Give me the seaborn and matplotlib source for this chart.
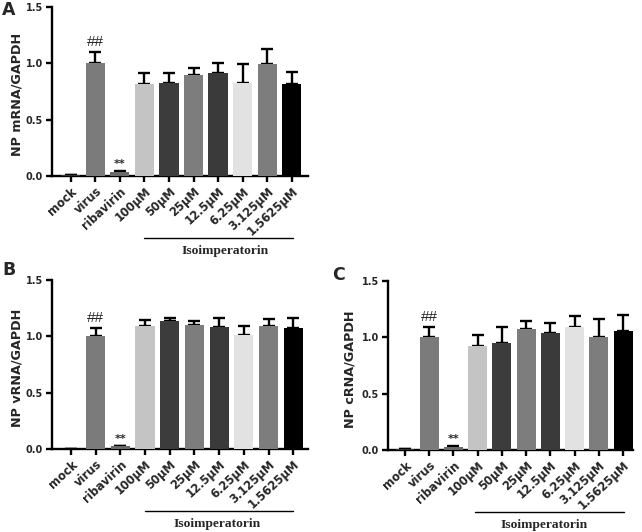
import matplotlib
matplotlib.use("Agg")
import matplotlib.pyplot as plt
import matplotlib.transforms as mtransforms
import numpy as np
import pandas as pd
import seaborn as sns

categories = ["mock", "virus", "ribavirin", "100\u03bcM", "50\u03bcM", "25\u03bcM",
              "12.5\u03bcM", "6.25\u03bcM", "3.125\u03bcM", "1.5625\u03bcM"]
bar_colors = ["#333333", "#7b7b7b", "#6a6a6a", "#c4c4c4", "#3c3c3c", "#7d7d7d",
              "#3a3a3a", "#e2e2e2", "#7d7d7d", "#000000"]

mrna_mean = [0.01, 1.00, 0.035, 0.815, 0.825, 0.895, 0.915, 0.825, 0.995, 0.815]
mrna_err = [0.0, 0.10, 0.01, 0.095, 0.09, 0.06, 0.09, 0.17, 0.13, 0.105]

vrna_mean = [0.0, 1.005, 0.025, 1.095, 1.14, 1.105, 1.08, 1.015, 1.093, 1.075]
vrna_err = [0.0, 0.07, 0.005, 0.05, 0.025, 0.03, 0.085, 0.08, 0.06, 0.09]

crna_mean = [0.01, 1.005, 0.03, 0.925, 0.953, 1.07, 1.04, 1.095, 1.0, 1.055]
crna_err = [0.0, 0.085, 0.005, 0.10, 0.135, 0.078, 0.085, 0.09, 0.165, 0.145]

ylabels = ["NP mRNA/GAPDH", "NP vRNA/GAPDH", "NP cRNA/GAPDH"]
panel_letters = ["A", "B", "C"]
group_label = "Isoimperatorin"
yticks = [0.0, 0.5, 1.0, 1.5]

sns.set_theme(style="ticks")
plt.rcParams["font.family"] = ["DejaVu Sans"]
plt.rcParams["font.weight"] = "bold"

fig = plt.figure(figsize=(6.42, 5.32), dpi=100)

rects = [
    [52 / 642, 1 - 176 / 532, 256 / 642, 169 / 532],
    [52 / 642, 1 - 449 / 532, 256 / 642, 169 / 532],
    [388 / 642, 1 - 450 / 532, 245 / 642, 169 / 532],
]
xlims = [(-0.76, 9.66), (-0.77, 9.6), (-0.7, 9.41)]
line_spans = [(3.0, 9.05), (3.0, 9.0), (2.88, 9.05)]
text_x = [6.3, 5.9, 5.75]
letter_pos = [(2 / 642, 1 - 1 / 532), (2 / 642, 1 - 261 / 532), (332 / 642, 1 - 266 / 532)]
label_x = [-0.112, -0.112, -0.128]

datasets = [(mrna_mean, mrna_err), (vrna_mean, vrna_err), (crna_mean, crna_err)]

for i, (means, errs) in enumerate(datasets):
    ax = fig.add_axes(rects[i])
    df = pd.DataFrame({"group": categories, "value": means})
    sns.barplot(data=df, x="group", y="value", hue="group", palette=bar_colors,
                legend=False, width=0.78, ax=ax, saturation=1, errorbar=None,
                linewidth=0, zorder=3)
    xpos = np.arange(len(categories))
    ax.errorbar(xpos, means, yerr=[np.zeros(len(errs)), errs], fmt="none",
                ecolor="black", elinewidth=1.7, capsize=4.5, capthick=1.7,
                zorder=2)
    ax.set_ylim(0, 1.5)
    ax.set_xlim(*xlims[i])
    ax.set_yticks(yticks)
    ax.set_yticklabels([f"{t:.1f}" for t in yticks], fontsize=7, fontweight="bold")
    ax.set_xticks(xpos)
    ax.set_xticklabels(categories, rotation=43, ha="right", rotation_mode="anchor",
                       fontsize=8.3, fontweight="bold")
    ax.set_xlabel("")
    ax.set_ylabel(ylabels[i], fontsize=9.2, fontweight="bold")
    ax.yaxis.set_label_coords(label_x[i], 0.48)
    for side in ["top", "right"]:
        ax.spines[side].set_visible(False)
    for side in ["left", "bottom"]:
        ax.spines[side].set_linewidth(1.7)
        ax.spines[side].set_color("black")
    ax.tick_params(axis="both", width=1.7, length=4.5, color="black", pad=2)
    ax.set_facecolor("white")

    ax.text(1, means[1] + errs[1] + 0.025, "##", ha="center", va="bottom",
            fontsize=11, family="Liberation Sans", fontweight="normal")
    ax.text(2, means[2] + errs[2] + 0.015, "**", ha="center", va="bottom",
            fontsize=8, fontweight="bold")

    trans = mtransforms.blended_transform_factory(ax.transData, ax.transAxes)
    ax.plot(line_spans[i], [-0.367, -0.367], color="black", lw=1.0,
            transform=trans, clip_on=False)
    ax.text(text_x[i], -0.445, group_label, transform=trans, ha="center",
            va="center", fontsize=9.7, family="Liberation Serif",
            fontweight="bold")

    fig.text(letter_pos[i][0], letter_pos[i][1], panel_letters[i], ha="left",
             va="top", fontsize=12.5, fontweight="bold")

fig.savefig("out.png", dpi=100, facecolor="white")
